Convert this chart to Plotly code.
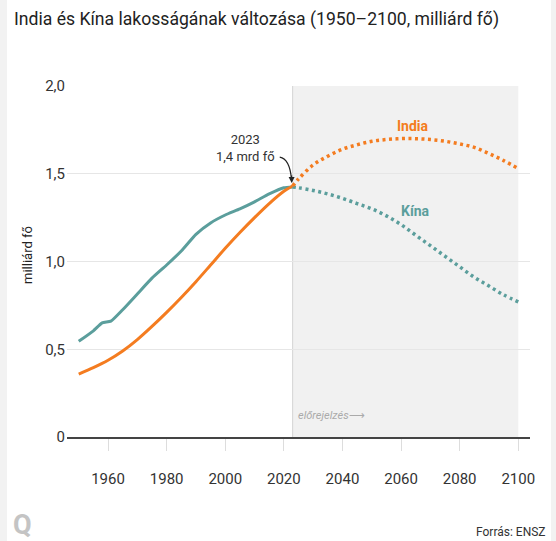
import plotly.graph_objects as go

# ---- data (billions) ----
hist_years = [1950, 1955, 1958, 1961, 1965, 1970, 1975, 1980, 1985, 1990, 1995, 2000, 2005, 2010, 2015, 2020, 2023]
china_hist = [0.545, 0.605, 0.65, 0.66, 0.725, 0.815, 0.905, 0.98, 1.06, 1.155, 1.22, 1.265, 1.30, 1.34, 1.385, 1.42, 1.425]
india_years = [1950, 1955, 1960, 1965, 1970, 1975, 1980, 1985, 1990, 1995, 2000, 2005, 2010, 2015, 2020, 2023]
india_hist = [0.358, 0.395, 0.437, 0.49, 0.555, 0.63, 0.71, 0.795, 0.885, 0.98, 1.075, 1.165, 1.25, 1.33, 1.40, 1.43]

proj_years = [2023, 2025, 2030, 2035, 2040, 2045, 2050, 2055, 2060, 2065, 2070, 2075, 2080, 2085, 2090, 2095, 2100]
india_proj = [1.43, 1.47, 1.55, 1.60, 1.64, 1.665, 1.685, 1.695, 1.70, 1.70, 1.695, 1.685, 1.67, 1.65, 1.615, 1.575, 1.53]
china_proj = [1.425, 1.42, 1.405, 1.385, 1.36, 1.33, 1.30, 1.26, 1.21, 1.15, 1.09, 1.03, 0.97, 0.91, 0.86, 0.81, 0.77]

x_ticks = [1960, 1980, 2000, 2020, 2040, 2060, 2080, 2100]
y_ticks = [0, 0.5, 1.0, 1.5, 2.0]
y_ticktext = ["0", "0,5", "1,0", "1,5", "2,0"]

FORECAST_START = 2023
FORECAST_END = 2100

INDIA_C = "#f47c20"
CHINA_C = "#5b9e9c"
FONT = "Roboto"

fig = go.Figure()

fig.add_trace(go.Scatter(x=hist_years, y=china_hist, mode="lines",
                         line=dict(color=CHINA_C, width=3, shape="spline", smoothing=0.5),
                         hoverinfo="skip", showlegend=False))
fig.add_trace(go.Scatter(x=india_years, y=india_hist, mode="lines",
                         line=dict(color=INDIA_C, width=3, shape="spline", smoothing=0.8),
                         hoverinfo="skip", showlegend=False))
fig.add_trace(go.Scatter(x=proj_years, y=china_proj, mode="lines",
                         line=dict(color=CHINA_C, width=3.5, dash="3px,3.5px", shape="spline"),
                         hoverinfo="skip", showlegend=False))
fig.add_trace(go.Scatter(x=proj_years, y=india_proj, mode="lines",
                         line=dict(color=INDIA_C, width=3.5, dash="3px,3.5px", shape="spline"),
                         hoverinfo="skip", showlegend=False))

shapes = [
    # forecast shading
    dict(type="rect", xref="x", yref="y", x0=FORECAST_START, x1=FORECAST_END, y0=0, y1=2.0,
         fillcolor="#f1f1f1", line=dict(width=0), layer="below"),
    dict(type="line", xref="x", yref="y", x0=FORECAST_START, x1=FORECAST_START, y0=0, y1=2.0,
         line=dict(color="#d4d4d4", width=1), layer="below"),
    # side strips of the page
    dict(type="rect", xref="paper", yref="paper", x0=-0.1447, x1=-0.1296, y0=-0.4, y1=1.3,
         fillcolor="#f2f2f2", line=dict(width=0), layer="below"),
    dict(type="rect", xref="paper", yref="paper", x0=1.0454, x1=1.06, y0=-0.4, y1=1.3,
         fillcolor="#f2f2f2", line=dict(width=0), layer="below"),
    # curved annotation arrow
    dict(type="path", xref="x", yref="y",
         path="M 2018.6,1.595 Q 2022.0,1.585 2022.6,1.47",
         line=dict(color="#222", width=1.2)),
]

annotations = [
    dict(xref="x", yref="y", x=2022.65, y=1.448, ax=0, ay=-9, text="", showarrow=True,
         arrowhead=2, arrowsize=1, arrowwidth=1.2, arrowcolor="#222"),
    dict(xref="x", yref="y", x=2006.8, y=1.647, text="2023<br>1,4 mrd fő", showarrow=False,
         font=dict(family=FONT, size=13, color="#333"), align="center"),
    dict(xref="x", yref="y", x=2064.1, y=1.772, text="<b>India</b>", showarrow=False,
         font=dict(family=FONT, size=14, color=INDIA_C)),
    dict(xref="x", yref="y", x=2064.8, y=1.288, text="<b>Kína</b>", showarrow=False,
         font=dict(family=FONT, size=14, color=CHINA_C)),
    dict(xref="x", yref="y", x=2024.2, y=0.125, yanchor="middle",
         text="<i>előrejelzés</i>⟶", showarrow=False,
         xanchor="left", font=dict(family=FONT, size=11, color="#aaaaaa")),
    dict(xref="paper", yref="paper", x=-0.084, y=0.519, xanchor="center", yanchor="middle",
         text="milliárd fő", textangle=-90,
         showarrow=False, font=dict(family=FONT, size=13, color="#222")),
    dict(xref="paper", yref="paper", x=-0.121, y=-0.251, xanchor="left", yanchor="middle",
         text="<b>Q</b>",
         showarrow=False, font=dict(family=FONT, size=27, color="#c4c4c4")),
    dict(xref="paper", yref="paper", x=1.039, y=-0.271, xanchor="right", yanchor="middle",
         text="Forrás: ENSZ",
         showarrow=False, font=dict(family=FONT, size=12, color="#333")),
]

fig.update_layout(
    width=556, height=541,
    margin=dict(l=67, r=26, t=86, b=104),
    paper_bgcolor="white", plot_bgcolor="white",
    title=dict(text="India és Kína lakosságának változása (1950–2100, milliárd fő)",
               x=14 / 556, xanchor="left", xref="container",
               y=1 - 19 / 541, yanchor="middle", yref="container",
               font=dict(family=FONT, size=17.6, color="#222")),
    shapes=shapes, annotations=annotations,
    font=dict(family=FONT),
)

fig.update_xaxes(range=[1946, 2104], tickvals=x_ticks, showgrid=False, zeroline=False,
                 showline=True, linecolor="#444", linewidth=1.5,
                 ticks="outside", ticklen=12, tickcolor="#dddddd", tickwidth=1,
                 ticklabelstandoff=15,
                 tickfont=dict(family=FONT, size=15, color="#333"))
fig.update_yaxes(range=[0, 2.0], tickvals=y_ticks, ticktext=y_ticktext,
                 showgrid=True, gridcolor="#e6e6e6", gridwidth=1, zeroline=False,
                 showline=False, ticks="", ticklabelstandoff=1,
                 tickfont=dict(family=FONT, size=15, color="#333"))

fig.write_html("out.html", config={"displayModeBar": False},
               post_script="document.body.style.margin='0px';")
